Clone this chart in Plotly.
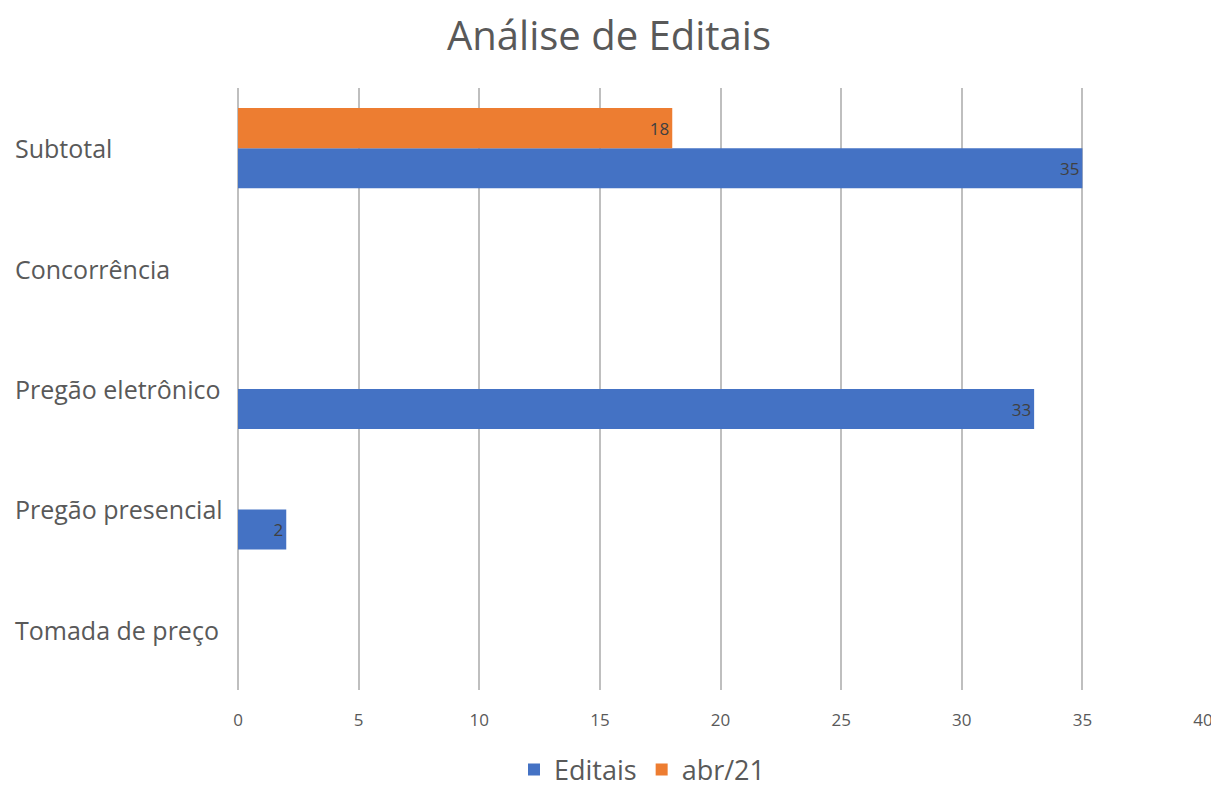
import plotly.graph_objects as go

categories = ["Tomada de preço", "Pregão presencial", "Pregão eletrônico", "Concorrência", "Subtotal"]
editais = [None, 2, 33, None, 35]
abr21 = [None, None, None, None, 18]
x_ticks = [0, 5, 10, 15, 20, 25, 30, 35, 40]

FONT = "Open Sans"
GRAY = "#595959"

fig = go.Figure()
fig.add_trace(go.Bar(
    y=categories, x=editais, orientation="h", name="Editais",
    marker=dict(color="#4472C4", line=dict(width=0)),
    text=[str(v) if v is not None else "" for v in editais],
    textposition="inside", insidetextanchor="end",
    textfont=dict(color="#404040", size=17, family=FONT),
))
fig.add_trace(go.Bar(
    y=categories, x=abr21, orientation="h", name="abr/21",
    marker=dict(color="#ED7D31", line=dict(width=0)),
    text=[str(v) if v is not None else "" for v in abr21],
    textposition="inside", insidetextanchor="end",
    textfont=dict(color="#404040", size=17, family=FONT),
))

# page body has an 8px margin, so the figure is drawn 8px right/down
W, H = 1211, 800
L, T = 230, 80
pw, ph = 965, 602
R = W - L - pw
B = H - T - ph

annotations = []
for c in categories:
    annotations.append(dict(
        text=c, xref="paper", yref="y", x=(5 - L) / pw, y=c,
        xanchor="left", yanchor="middle", showarrow=False,
        font=dict(size=25, color=GRAY, family=FONT),
    ))

fig.update_layout(
    width=W, height=H,
    margin=dict(l=L, r=R, t=T, b=B, autoexpand=False),
    paper_bgcolor="white", plot_bgcolor="white",
    barmode="group", bargap=0.334, bargroupgap=0,
    title=dict(text="Análise de Editais", x=(609 - 8) / W, xanchor="center",
               y=1 - 28 / H, yanchor="middle",
               font=dict(size=40, color=GRAY, family=FONT)),
    xaxis=dict(range=[0, 40], tickvals=x_ticks, showgrid=True,
               gridcolor="#bfbfbf", gridwidth=2, zeroline=True,
               zerolinecolor="#bfbfbf", zerolinewidth=2, showline=False,
               ticks="", ticklabelstandoff=18,
               tickfont=dict(size=17, color=GRAY, family=FONT), fixedrange=True),
    yaxis=dict(categoryorder="array", categoryarray=categories,
               showticklabels=False, showgrid=False, zeroline=False,
               showline=False, fixedrange=True),
    legend=dict(orientation="h", x=(634 - L) / pw, xanchor="center",
                y=-80 / ph, yanchor="middle",
                font=dict(size=27, color=GRAY, family=FONT),
                itemwidth=30, traceorder="normal"),
    annotations=annotations,
    showlegend=True,
)

fig.write_html("out.html")
